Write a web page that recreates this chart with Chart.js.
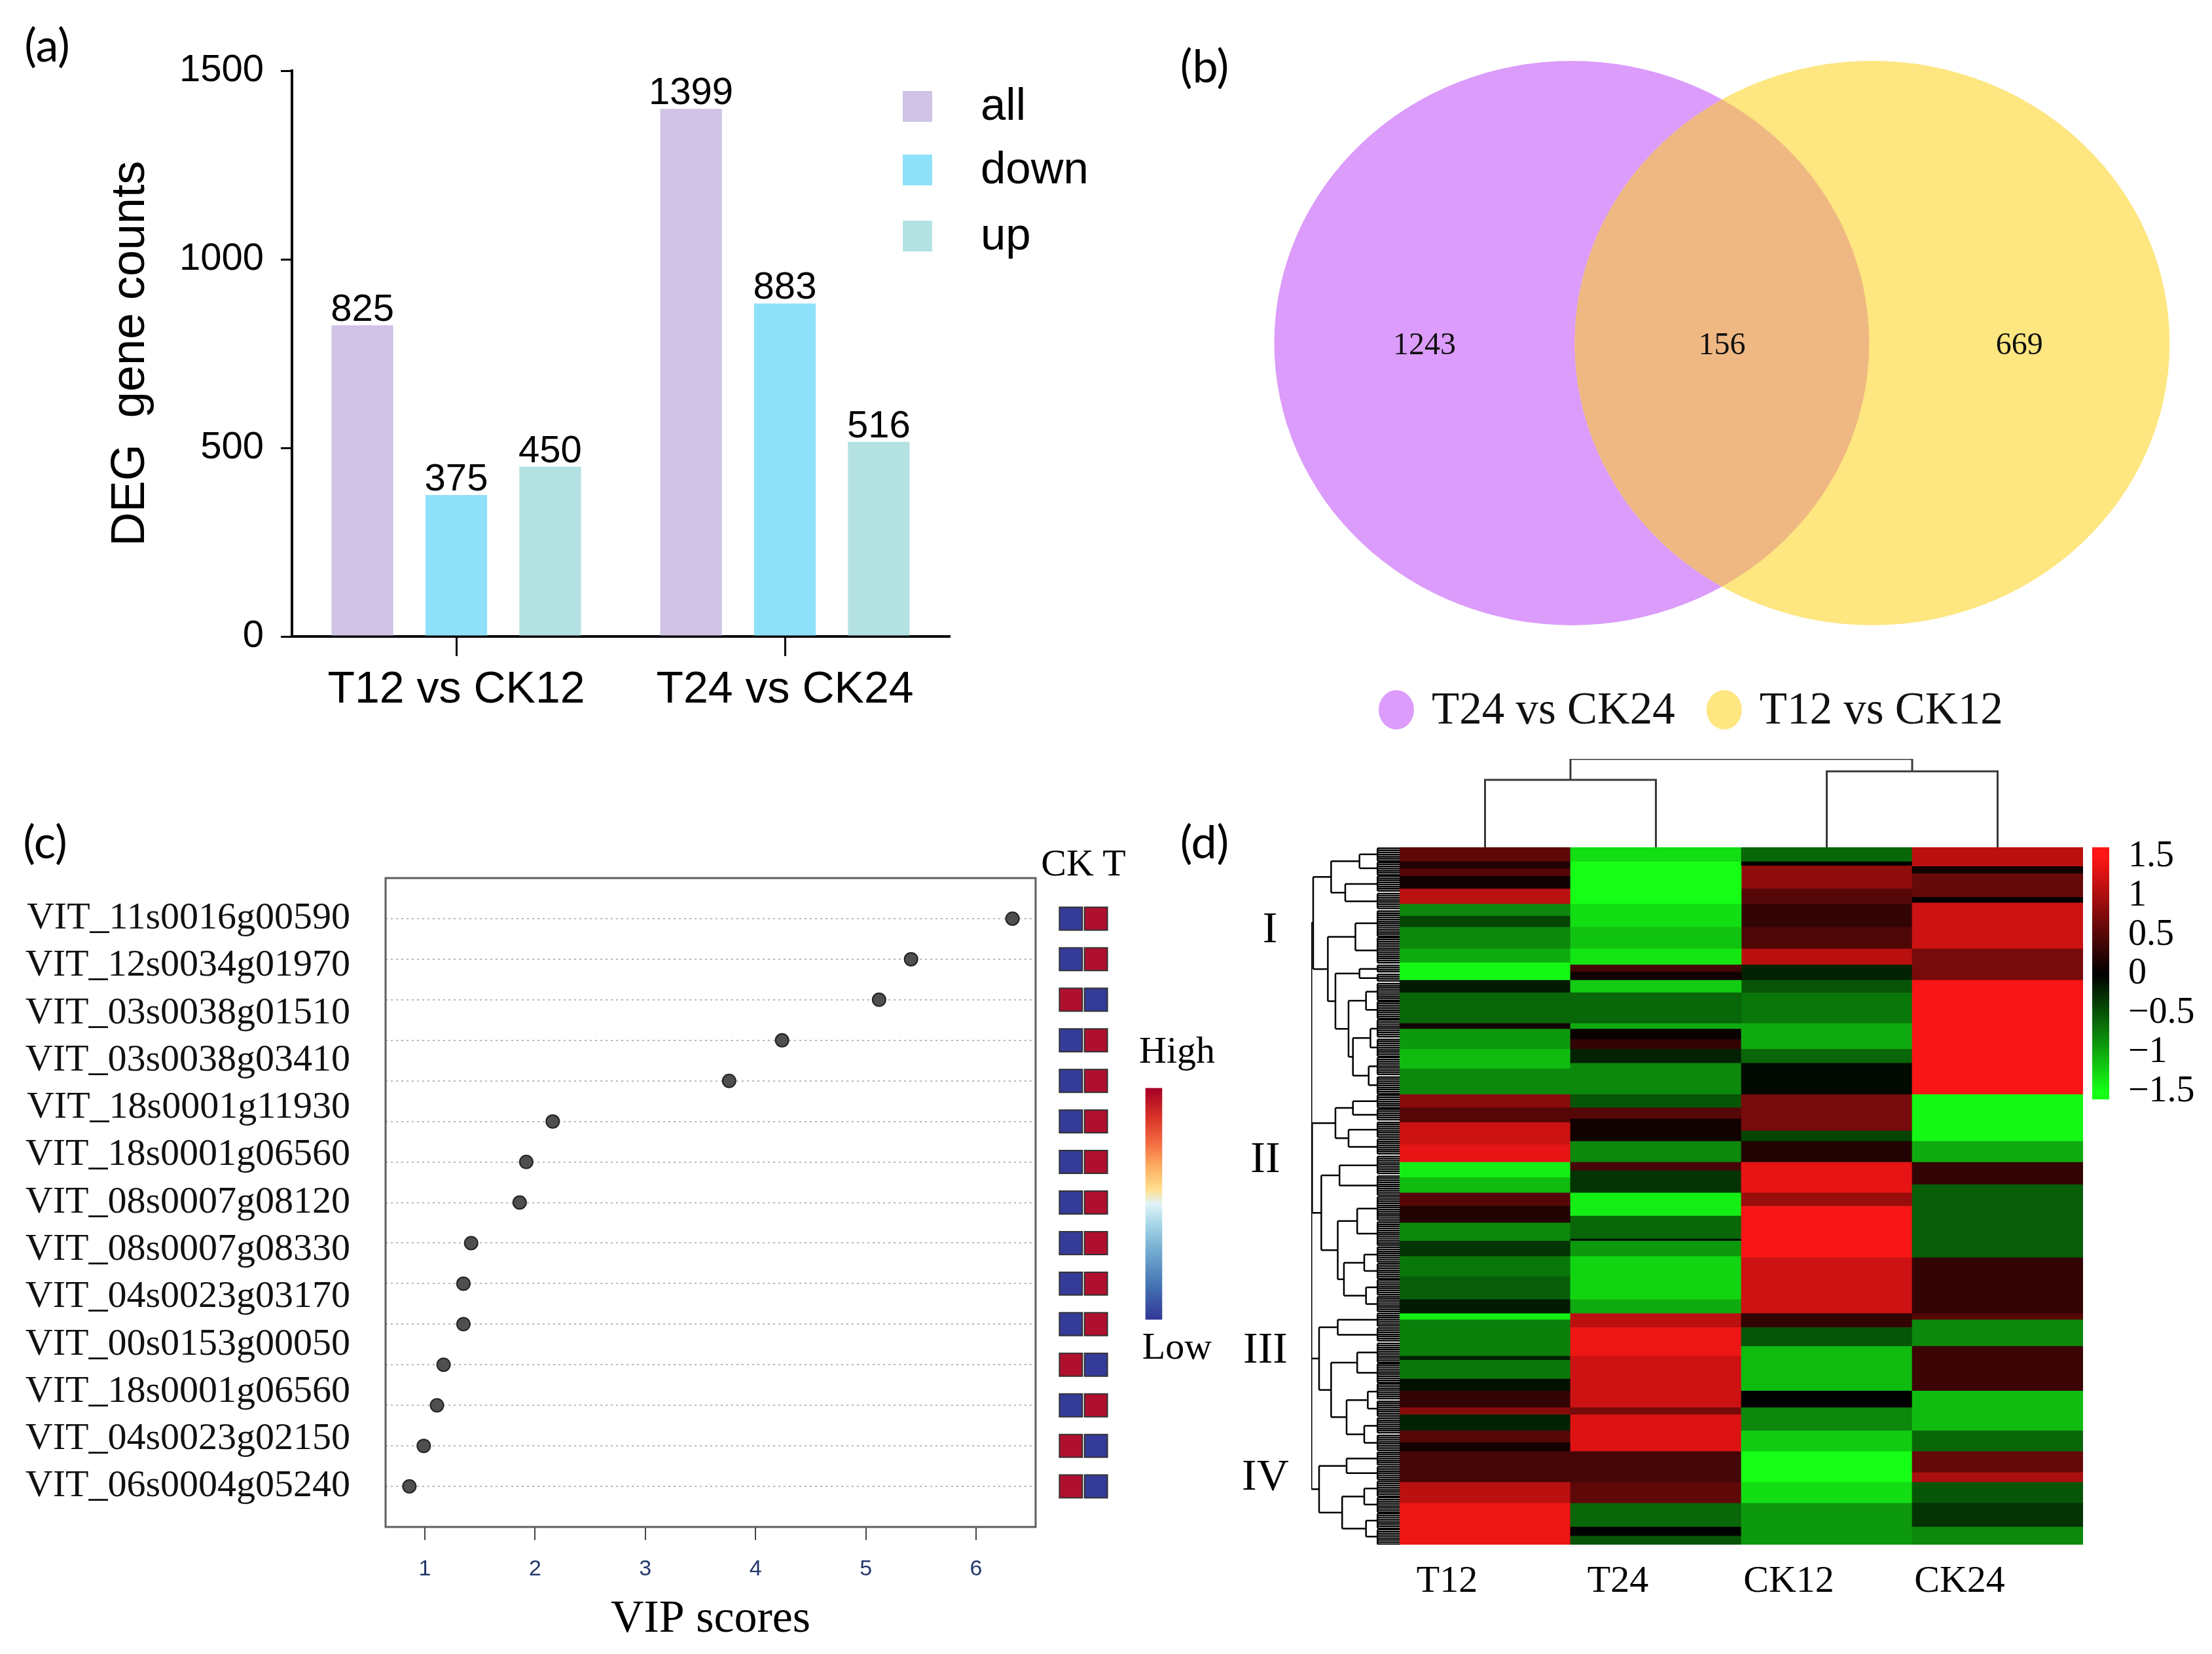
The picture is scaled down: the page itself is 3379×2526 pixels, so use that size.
<!DOCTYPE html>
<html>
<head>
<meta charset="utf-8">
<script src="https://cdn.jsdelivr.net/npm/chart.js@4.4.1/dist/chart.umd.min.js"></script>
<style>
  html, body { margin: 0; padding: 0; background: #fff; }
  #fig { position: relative; width: 3379px; height: 2526px; overflow: hidden; background: #fff; }
  #fig canvas { position: absolute; }
  .txt { position: absolute; transform: translate(-50%, -50%); white-space: nowrap; line-height: 1; color: #000; }
  .panel { font-family: Lato, "Open Sans", sans-serif; font-size: 70px; }
  .serif { font-family: "Liberation Serif", "Times New Roman", serif; font-size: 68px; }
</style>
</head>
<body>
<div id="fig">
  <canvas id="bars" width="1720" height="1150" style="left:0;top:0"></canvas>
  <canvas id="venn" width="1679" height="1180" style="left:1700px;top:0"></canvas>
  <canvas id="vip" width="1600" height="1346" style="left:0;top:1180px"></canvas>
  <canvas id="ckt" width="130" height="1346" style="left:1590px;top:1180px"></canvas>
  <canvas id="vipKey" width="142" height="540" style="left:1727px;top:1560px"></canvas>
  <canvas id="rowTree" width="160" height="1100" style="left:1990px;top:1280px"></canvas>
  <canvas id="heat" width="1120" height="1246" style="left:2100px;top:1280px"></canvas>
  <canvas id="colTree" width="1120" height="160" style="left:2100px;top:1140px"></canvas>
  <canvas id="heatKey" width="199" height="434" style="left:3180px;top:1270px"></canvas>

  <div class="txt panel" style="left:72px;top:67px">(a)</div>
  <div class="txt panel" style="left:1840px;top:99px">(b)</div>
  <div class="txt panel" style="left:69px;top:1284px">(c)</div>
  <div class="txt panel" style="left:1840px;top:1284px">(d)</div>

  <div class="txt serif" style="left:1655px;top:1318px;font-size:58px">CK T</div>

  <div class="txt serif" style="left:1940px;top:1416px">I</div>
  <div class="txt serif" style="left:1933px;top:1767px">II</div>
  <div class="txt serif" style="left:1933px;top:2058px">III</div>
  <div class="txt serif" style="left:1933px;top:2252px">IV</div>
</div>

<script>
// ---- (a) DEG counts
const groups = ['T12 vs CK12', 'T24 vs CK24'];
const allCounts = [825, 1399];
const downCounts = [375, 883];
const upCounts = [450, 516];
const countTicks = [0, 500, 1000, 1500];

// ---- (b) Venn
const vennSets = ['T24 vs CK24', 'T12 vs CK12'];
const vennOnly = [1243, 669];
const vennShared = 156;

// ---- (c) VIP scores
const genes = [
  'VIT_11s0016g00590', 'VIT_12s0034g01970', 'VIT_03s0038g01510', 'VIT_03s0038g03410',
  'VIT_18s0001g11930', 'VIT_18s0001g06560', 'VIT_08s0007g08120', 'VIT_08s0007g08330',
  'VIT_04s0023g03170', 'VIT_00s0153g00050', 'VIT_18s0001g06560', 'VIT_04s0023g02150',
  'VIT_06s0004g05240'
];
const vipScores = [6.33, 5.41, 5.12, 4.24, 3.76, 2.16, 1.92, 1.86, 1.42, 1.35, 1.35, 1.17, 1.11, 0.99, 0.86];
const ckLevel = [0, 0, 1, 0, 0, 0, 0, 0, 0, 0, 0, 1, 0, 1, 1];
const tLevel  = [1, 1, 0, 1, 1, 1, 1, 1, 1, 1, 1, 0, 1, 0, 0];
const vipTicks = [1, 2, 3, 4, 5, 6];

// ---- (d) heatmap: [row where band ends (per mille), z-score]
const samples = ['T12', 'T24', 'CK12', 'CK24'];
const t12Bands = [[20,0.55],[30,0.2],[41,0.5],[59,0.1],[81,1.1],[98,-0.8],[114,-0.4],[145,-0.8],[165,-1.0],[190,-1.45],
  [208,-0.15],[252,-0.6],[260,0.1],[289,-0.9],[317,-1.1],[354,-0.8],[373,0.8],[394,0.5],[426,1.2],[451,1.35],
  [473,-1.4],[495,-1.1],[514,0.5],[538,0.2],[564,-0.8],[586,-0.3],[615,-0.7],[648,-0.55],[668,-0.15],[677,-1.4],
  [729,-0.75],[735,-0.2],[762,-0.7],[779,-0.1],[803,0.3],[813,0.8],[836,-0.2],[853,0.5],[866,0.1],[910,0.4],
  [940,1.1],[1000,1.4]];
const t24Bands = [[20,-1.3],[81,-1.5],[114,-1.3],[145,-1.15],[168,-1.35],[178,0.4],[190,0.1],[208,-1.2],[252,-0.6],
  [260,-1.0],[275,0.05],[289,0.3],[309,-0.2],[354,-0.8],[373,-0.5],[389,0.5],[421,0.1],[451,-0.8],[463,0.4],
  [495,-0.3],[528,-1.4],[561,-0.6],[564,-0.1],[586,-0.9],[648,-1.25],[668,-1.0],[688,1.1],[729,1.4],[803,1.2],
  [813,0.7],[866,1.3],[910,0.4],[940,0.55],[974,-0.6],[987,0],[1000,-0.5]];
const ck12Bands = [[20,-0.6],[26,0],[59,0.85],[81,0.5],[114,0.3],[145,0.45],[168,1.1],[190,-0.2],[208,-0.5],
  [252,-0.7],[289,-1.0],[309,-0.6],[354,-0.05],[406,0.7],[421,-0.4],[451,0.2],[495,1.35],[514,0.9],[588,1.45],
  [668,1.2],[688,0.3],[715,-0.5],[779,-1.1],[803,0],[836,-0.8],[866,-1.2],[910,-1.5],[940,-1.3],[1000,-0.9]];
const ck24Bands = [[27,1.1],[37,0.1],[71,0.6],[79,0],[145,1.2],[190,0.7],[354,1.45],[421,-1.45],[451,-1.0],
  [483,0.3],[588,-0.55],[668,0.3],[677,0.5],[715,-0.8],[779,0.35],[836,-1.1],[866,-0.6],[896,0.6],[910,1.0],
  [940,-0.5],[974,-0.3],[1000,-0.8]];
const scaleTicks = [1.5, 1, 0.5, 0, -0.5, -1, -1.5];

// sample clustering: [left node, right node, height]
const sampleMerges = [[0, 1, 0.763], [2, 3, 0.859], [4, 5, 1.0]];
// gene clustering: [height, ...children]; a number is a leaf group of rows (per mille)
const geneTree = [0.998,
  [0.978,
    [0.775, [0.454, 20, 20], [0.615, 25, 25]],
    [0.812, [0.50, 38, 40],
      [0.726, [0.454, 13, 13], [0.578, [0.38, 26, 26], [0.528, [0.33, 28, 26], [0.35, 28, 26]]]]]],
  [0.99,
    [0.726, [0.528, 20, 19], [0.578, 24, 25]],
    [0.886, [0.68, 28, 30], [0.70, [0.48, 36, 36], [0.63, [0.40, 24, 23], [0.38, 24, 24]]]]],
  [0.911, [0.70, 21, 22], [0.775, [0.48, 29, 29], [0.60, [0.36, 25, 24], [0.40, 25, 24]]]],
  [0.911, [0.60, 21, 21], [0.65, [0.40, 23, 23], [0.38, 23, 23]]]
];

const SANS = '"Liberation Sans", Arial, sans-serif';
const SERIF = '"Liberation Serif", "Times New Roman", serif';
const HIGH = '#b0102e';
const LOW = '#343b98';

Chart.defaults.color = '#000';
Chart.defaults.animation = false;
Chart.defaults.responsive = false;
Chart.defaults.events = [];
Chart.defaults.plugins.legend.display = false;
Chart.defaults.plugins.tooltip.enabled = false;

function heatColor(v) {
  const t = Math.min(Math.abs(v) / 1.5, 1);
  const hi = Math.round(255 * t), lo = Math.round(22 * t);
  return v >= 0 ? `rgb(${hi},${lo},${lo})` : `rgb(${lo},${hi},${lo})`;
}

// ================= (a) bar chart =================
const barLabels = {
  id: 'barLabels',
  afterDatasetsDraw(chart) {
    const ctx = chart.ctx;
    ctx.save();
    ctx.font = '58px ' + SANS;
    ctx.fillStyle = '#000';
    ctx.textAlign = 'center';
    ctx.textBaseline = 'alphabetic';
    chart.data.datasets.forEach((ds, di) => {
      chart.getDatasetMeta(di).data.forEach((bar, i) => {
        ctx.fillText(String(ds.data[i]), bar.x, bar.y - 7);
      });
    });
    ctx.restore();
  }
};
const barLegend = {
  id: 'barLegend',
  afterDraw(chart) {
    const ctx = chart.ctx;
    const rows = [162, 259, 360];
    ctx.save();
    ctx.font = '69px ' + SANS;
    ctx.textBaseline = 'middle';
    ctx.textAlign = 'left';
    chart.data.datasets.forEach((ds, i) => {
      ctx.fillStyle = ds.backgroundColor;
      ctx.fillRect(1379, rows[i] - 23, 45, 47);
      ctx.fillStyle = '#000';
      ctx.fillText(ds.label, 1498, rows[i] + 2);
    });
    ctx.restore();
  }
};

new Chart(document.getElementById('bars'), {
  type: 'bar',
  data: {
    labels: groups,
    datasets: [
      { label: 'all',  data: allCounts,  backgroundColor: '#cfc3e6' },
      { label: 'down', data: downCounts, backgroundColor: '#8fe1fa' },
      { label: 'up',   data: upCounts,   backgroundColor: '#b4e2e3' }
    ]
  },
  options: {
    layout: { padding: { left: 157, top: 108, right: 270, bottom: 0 } },
    datasets: { bar: { categoryPercentage: 0.857, barPercentage: 0.657, borderWidth: 0 } },
    scales: {
      x: {
        type: 'category', offset: true,
        ticks: { font: { family: SANS, size: 68 }, color: '#000', padding: 11, autoSkip: false, maxRotation: 0 },
        grid: { offset: false, drawOnChartArea: false, drawTicks: true, tickLength: 30, color: '#000', lineWidth: 3 },
        border: { color: '#000', width: 4 },
        afterFit: s => { s.height = 178; s.paddingLeft = 0; s.paddingRight = 0; }
      },
      y: {
        min: 0, max: 1500,
        afterBuildTicks: s => { s.ticks = countTicks.map(v => ({ value: v })); },
        ticks: { callback: v => String(v), font: { family: SANS, size: 58 }, color: '#000', padding: 26 },
        grid: { drawOnChartArea: false, tickLength: 17, color: '#000', lineWidth: 3 },
        border: { color: '#000', width: 4 },
        title: { display: true, text: 'DEG  gene counts', font: { family: SANS, size: 72 }, color: '#000', padding: 0 },
        afterFit: s => { s.width = 289; s.paddingTop = 0; s.paddingBottom = 0; }
      }
    }
  },
  plugins: [barLabels, barLegend]
});

// ================= (b) Venn =================
const VENN_R = 0.99;
const VENN_OVERLAP = '#efb882';
const vennPlugin = {
  id: 'venn',
  beforeDatasetsDraw(chart) {
    const { ctx, scales: { x, y } } = chart;
    const shapes = chart.data.datasets.map(ds => {
      const c = ds.data[0];
      const cx = x.getPixelForValue(c.x), cy = y.getPixelForValue(c.y);
      return {
        cx, cy,
        rx: Math.abs(x.getPixelForValue(c.x + VENN_R) - cx),
        ry: Math.abs(y.getPixelForValue(c.y + VENN_R) - cy),
        color: ds.backgroundColor
      };
    });
    const path = s => { ctx.beginPath(); ctx.ellipse(s.cx, s.cy, s.rx, s.ry, 0, 0, Math.PI * 2); };
    ctx.save();
    shapes.forEach(s => { path(s); ctx.fillStyle = s.color; ctx.fill(); });
    path(shapes[0]); ctx.clip();
    path(shapes[1]); ctx.fillStyle = VENN_OVERLAP; ctx.fill();
    ctx.restore();

    const c0 = chart.data.datasets[0].data[0].x, c1 = chart.data.datasets[1].data[0].x;
    const spots = [
      [(c0 - VENN_R + c1 - VENN_R) / 2, vennOnly[0]],
      [(c0 + c1) / 2, vennShared],
      [(c0 + VENN_R + c1 + VENN_R) / 2, vennOnly[1]]
    ];
    ctx.save();
    ctx.font = '48px ' + SERIF;
    ctx.fillStyle = '#111';
    ctx.textAlign = 'center';
    ctx.textBaseline = 'middle';
    spots.forEach(([vx, n]) => ctx.fillText(String(n), x.getPixelForValue(vx), y.getPixelForValue(0) + 4));
    ctx.restore();
  },
  afterDraw(chart) {
    const ctx = chart.ctx;
    ctx.save();
    ctx.font = '69px ' + SERIF;
    ctx.textBaseline = 'middle';
    ctx.textAlign = 'left';
    let px = 406;
    const cy = 1084;
    chart.data.datasets.forEach(ds => {
      ctx.beginPath();
      ctx.ellipse(px + 27, cy, 27, 30, 0, 0, Math.PI * 2);
      ctx.fillStyle = ds.backgroundColor;
      ctx.fill();
      ctx.fillStyle = '#111';
      ctx.fillText(ds.label, px + 81, cy + 3);
      px += 81 + ctx.measureText(ds.label).width + 48;
    });
    ctx.restore();
  }
};

new Chart(document.getElementById('venn'), {
  type: 'scatter',
  data: {
    datasets: vennSets.map((name, i) => ({
      label: name,
      data: [{ x: i - 0.5, y: 0 }],
      pointRadius: 0,
      backgroundColor: i === 0 ? '#dc9cfb' : '#fee680'
    }))
  },
  options: {
    layout: { padding: 0 },
    scales: {
      x: { type: 'linear', min: -2.027, max: 1.631, display: false },
      y: { type: 'linear', min: -1.507, max: 1.2035, display: false }
    }
  },
  plugins: [vennPlugin]
});

// ================= (c) VIP dot plot =================
const frame = {
  id: 'frame',
  afterDatasetsDraw(chart) {
    const { ctx, chartArea: a } = chart;
    ctx.save();
    ctx.strokeStyle = '#5e5e5e';
    ctx.lineWidth = 3;
    ctx.strokeRect(a.left, a.top, a.right - a.left, a.bottom - a.top);
    ctx.restore();
  }
};

new Chart(document.getElementById('vip'), {
  type: 'scatter',
  data: {
    datasets: [{
      data: vipScores.map((v, i) => ({ x: v, y: i + 1 })),
      yAxisID: 'y',
      pointRadius: 10,
      backgroundColor: '#4f4f4f',
      borderColor: '#222',
      borderWidth: 2
    }]
  },
  options: {
    layout: { padding: { left: 0, right: 18, top: 161, bottom: 0 } },
    scales: {
      x: {
        type: 'linear', min: 0.644, max: 6.54,
        afterBuildTicks: s => { s.ticks = vipTicks.map(v => ({ value: v })); },
        ticks: { font: { family: SANS, size: 34 }, color: '#24386b', padding: 24 },
        grid: { drawOnChartArea: false, drawTicks: true, tickLength: 20, color: '#444', lineWidth: 2 },
        border: { display: false },
        title: { display: true, text: 'VIP scores', font: { family: SERIF, size: 70 }, color: '#000', padding: { top: 0, bottom: 10 } },
        afterFit: s => { s.height = 194; s.paddingLeft = 0; s.paddingRight = 0; }
      },
      y: {
        type: 'linear', position: 'right', reverse: true, min: 0, max: 16,
        afterBuildTicks: s => { s.ticks = vipScores.map((v, i) => ({ value: i + 1 })); },
        ticks: { display: false },
        grid: { color: '#b8b8b8', lineWidth: 2, drawTicks: false },
        border: { display: false, dash: [3, 5] },
        afterFit: s => { s.width = 0; s.paddingTop = 0; s.paddingBottom = 0; }
      },
      yl: {
        type: 'linear', position: 'left', reverse: true, min: 0, max: 16,
        afterBuildTicks: s => {
          s.ticks = genes.map((g, i) => ({ value: 1 + i * (vipScores.length - 1) / (genes.length - 1) }));
        },
        ticks: { callback: (v, i) => genes[i], font: { family: SERIF, size: 58 }, color: '#111', padding: 54, autoSkip: false },
        grid: { display: false, drawTicks: false },
        border: { display: false },
        afterFit: s => { s.width = 589; s.paddingTop = 0; s.paddingBottom = 0; }
      }
    }
  },
  plugins: [frame]
});

// CK / T expression squares
new Chart(document.getElementById('ckt'), {
  type: 'scatter',
  data: {
    labels: ['CK', 'T'],
    datasets: [
      { data: ckLevel.map((v, i) => ({ x: 'CK', y: i + 1 })), backgroundColor: ckLevel.map(v => v ? HIGH : LOW) },
      { data: tLevel.map((v, i) => ({ x: 'T', y: i + 1 })),   backgroundColor: tLevel.map(v => v ? HIGH : LOW) }
    ]
  },
  options: {
    elements: { point: { pointStyle: 'rect', radius: 24.7, borderColor: '#333', borderWidth: 2 } },
    layout: { padding: { left: 22, right: 25, top: 161, bottom: 194 } },
    scales: {
      x: { type: 'category', offset: true, display: false },
      y: { type: 'linear', min: 0, max: 16, reverse: true, display: false }
    }
  }
});

// High / Low key
const keyStops = [[0, '#313695'], [0.15, '#4575b4'], [0.3, '#74add1'], [0.42, '#abd9e9'], [0.5, '#e0f3f8'],
  [0.56, '#fee090'], [0.66, '#fdae61'], [0.76, '#f46d43'], [0.88, '#d73027'], [1, '#a50026']];
new Chart(document.getElementById('vipKey'), {
  type: 'bar',
  data: {
    labels: ['', ''],
    datasets: [{
      data: [[0, 1], null],
      barThickness: 25,
      borderWidth: 0,
      backgroundColor: ctx => {
        const a = ctx.chart.chartArea;
        if (!a) return LOW;
        const g = ctx.chart.ctx.createLinearGradient(0, a.bottom, 0, a.top);
        keyStops.forEach(([p, c]) => g.addColorStop(p, c));
        return g;
      }
    }]
  },
  options: {
    layout: { padding: 0 },
    plugins: {
      title: { display: true, text: 'High', font: { family: SERIF, size: 58, weight: 'normal' }, color: '#000', padding: { top: 13, bottom: 19 } },
      subtitle: { display: true, position: 'bottom', text: 'Low', font: { family: SERIF, size: 58, weight: 'normal' }, color: '#000', padding: { top: 10, bottom: 5 } }
    },
    scales: {
      x: { display: false },
      y: { min: 0, max: 1, display: false }
    }
  }
});

// ================= (d) heatmap =================
const heatColumns = [t12Bands, t24Bands, ck12Bands, ck24Bands];
const maxBands = Math.max(...heatColumns.map(c => c.length));
const heatDatasets = [];
for (let k = 0; k < maxBands; k++) {
  heatDatasets.push({
    data: heatColumns.map(col => col[k] ? col[k][0] - (k ? col[k - 1][0] : 0) : 0),
    backgroundColor: heatColumns.map(col => col[k] ? heatColor(col[k][1]) : 'rgba(0,0,0,0)'),
    stack: 'genes'
  });
}
const heatBack = {
  id: 'heatBack',
  beforeDatasetsDraw(chart) {
    const { ctx, chartArea: a } = chart;
    ctx.save();
    ctx.fillStyle = '#111';
    ctx.fillRect(a.left, a.top, a.right - a.left, a.bottom - a.top);
    ctx.restore();
  }
};
new Chart(document.getElementById('heat'), {
  type: 'bar',
  data: { labels: samples, datasets: heatDatasets },
  options: {
    layout: { padding: { left: 38, right: 38, top: 14, bottom: 0 } },
    datasets: { bar: { barPercentage: 1, categoryPercentage: 1, borderWidth: 0 } },
    scales: {
      x: {
        stacked: true,
        ticks: { font: { family: SERIF, size: 58 }, color: '#000', padding: 22, labelOffset: -58 },
        grid: { display: false, drawTicks: false },
        border: { display: false },
        afterFit: s => { s.height = 167; s.paddingLeft = 0; s.paddingRight = 0; }
      },
      y: { stacked: true, reverse: true, min: 0, max: 1000, display: false }
    }
  },
  plugins: [heatBack]
});

// sample dendrogram (top)
const colTreePts = [];
const colNodes = samples.map((s, i) => ({ x: i, h: 0 }));
sampleMerges.forEach(([a, b, h]) => {
  const A = colNodes[a], B = colNodes[b];
  colTreePts.push({ x: A.x, y: A.h }, { x: A.x, y: h }, { x: B.x, y: h }, { x: B.x, y: B.h }, { x: B.x, y: null });
  colNodes.push({ x: (A.x + B.x) / 2, h });
});
new Chart(document.getElementById('colTree'), {
  type: 'line',
  data: { datasets: [{ data: colTreePts, borderColor: '#3a3a3a', borderWidth: 3, pointRadius: 0, spanGaps: false, tension: 0 }] },
  options: {
    layout: { padding: { left: 38, right: 38, top: 19, bottom: 6 } },
    scales: {
      x: { type: 'linear', min: -0.5, max: 3.5, display: false },
      y: { type: 'linear', min: 0, max: 1, display: false }
    }
  }
});

// gene dendrogram (left)
const LEAF_H = 0.25;
const LEAF_STEP = 3;
const rowTreePts = [];
function layoutTree(node, start) {
  if (typeof node === 'number') {
    const end = start + node;
    let first = null, last = null;
    for (let r = start + LEAF_STEP / 2; r < end; r += LEAF_STEP) {
      rowTreePts.push({ x: 0, y: r }, { x: LEAF_H, y: r }, { x: LEAF_H, y: null });
      if (first === null) first = r;
      last = r;
    }
    rowTreePts.push({ x: LEAF_H, y: first }, { x: LEAF_H, y: last }, { x: LEAF_H, y: null });
    return { y: (start + end) / 2, h: LEAF_H, end };
  }
  const [h, ...kids] = node;
  let pos = start;
  const placed = kids.map(k => { const p = layoutTree(k, pos); pos = p.end; return p; });
  placed.forEach(p => rowTreePts.push({ x: p.h, y: p.y }, { x: h, y: p.y }, { x: h, y: null }));
  const y0 = placed[0].y, y1 = placed[placed.length - 1].y;
  rowTreePts.push({ x: h, y: y0 }, { x: h, y: y1 }, { x: h, y: null });
  return { y: (y0 + y1) / 2, h, end: pos };
}
layoutTree(geneTree, 0);
new Chart(document.getElementById('rowTree'), {
  type: 'line',
  data: { datasets: [{ data: rowTreePts, borderColor: '#000', borderWidth: 2.5, pointRadius: 0, spanGaps: false, tension: 0 }] },
  options: {
    layout: { padding: { left: 13, right: 12, top: 14, bottom: 21 } },
    scales: {
      x: { type: 'linear', min: 0, max: 1, reverse: true, display: false },
      y: { type: 'linear', min: 0, max: 1000, reverse: true, display: false }
    }
  }
});

// heatmap colour key
new Chart(document.getElementById('heatKey'), {
  type: 'bar',
  data: {
    labels: [''],
    datasets: [{
      data: [[-1.6, 1.62]],
      barPercentage: 1,
      categoryPercentage: 1,
      borderWidth: 0,
      backgroundColor: ctx => {
        const { chart } = ctx;
        const a = chart.chartArea;
        if (!a) return '#000';
        const ys = chart.scales.y;
        const g = chart.ctx.createLinearGradient(0, a.top, 0, a.bottom);
        [1.62, 1.5, 0, -1.5, -1.6].forEach(v => {
          g.addColorStop((ys.getPixelForValue(v) - a.top) / (a.bottom - a.top), heatColor(v));
        });
        return g;
      }
    }]
  },
  options: {
    layout: { padding: { left: 16, top: 24, bottom: 25, right: 0 } },
    scales: {
      x: { display: false },
      y: {
        position: 'right', min: -1.6, max: 1.62,
        afterBuildTicks: s => { s.ticks = scaleTicks.map(v => ({ value: v })); },
        ticks: { callback: v => v < 0 ? '\u2212' + Math.abs(v) : String(v), font: { family: SERIF, size: 56 }, color: '#000', padding: 29, autoSkip: false },
        grid: { display: false, drawTicks: false },
        border: { display: false },
        afterFit: s => { s.width = 157; s.paddingTop = 0; s.paddingBottom = 0; }
      }
    }
  }
});
</script>
</body>
</html>
